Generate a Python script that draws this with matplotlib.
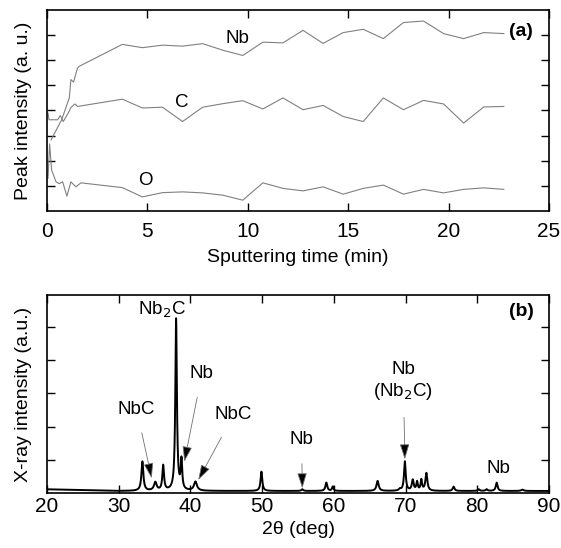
import numpy as np
import matplotlib
matplotlib.use("Agg")
import matplotlib.pyplot as plt

plt.rcParams['font.family'] = ['Liberation Sans', 'DejaVu Sans']

# ---- panel (a) data ----
nb_t = [0.2, 0.73, 1.11, 1.19, 1.32, 1.52, 1.61, 3.75, 4.75, 5.75, 6.75, 7.75, 8.75, 9.75,
        10.75, 11.75, 12.75, 13.75, 14.75, 15.75, 16.75, 17.75, 18.75, 19.75, 20.75, 21.75, 22.75]
nb_v = [2.83, 3.63, 4.5, 5.23, 5.13, 5.69, 5.76, 6.63, 6.5, 6.6, 6.56, 6.66, 6.4, 6.19,
        6.72, 6.69, 7.19, 6.67, 7.1, 7.23, 6.86, 7.5, 7.56, 7.06, 6.86, 7.1, 7.06]

c_t = [0.05, 0.1, 0.53, 0.66, 0.81, 1.06, 1.19, 1.39, 1.52, 3.75, 4.75, 5.75, 6.75, 7.75, 8.75,
       9.75, 10.75, 11.75, 12.75, 13.75, 14.75, 15.75, 16.75, 17.75, 18.75, 19.75, 20.75, 21.75, 22.75]
c_v = [3.9, 3.63, 3.63, 3.8, 3.56, 3.9, 4.12, 4.26, 4.16, 4.45, 4.1, 4.13, 3.56, 4.13, 4.27,
       4.39, 4.06, 4.5, 4.03, 4.2, 3.76, 3.56, 4.5, 4.03, 4.4, 4.26, 3.5, 4.14, 4.16]

o_t = [0.05, 0.13, 0.23, 0.45, 0.61, 0.78, 0.99, 1.19, 1.44, 1.69, 3.75, 4.75, 5.75, 6.75, 7.75,
       8.75, 9.75, 10.75, 11.75, 12.75, 13.75, 14.75, 15.75, 16.75, 17.75, 18.75, 19.75, 20.75, 21.75, 22.75]
o_v = [1.3, 2.67, 1.63, 1.16, 1.09, 1.16, 0.59, 1.16, 0.96, 1.12, 0.93, 0.56, 0.73, 0.76, 0.72,
       0.63, 0.43, 1.12, 0.9, 0.8, 0.96, 0.67, 0.9, 1.03, 0.67, 0.86, 0.72, 0.86, 0.92, 0.86]

# ---- panel (b) data: peak positions (deg), heights, widths ----
peak_pos = [33.3, 35.1, 36.2, 38.0, 38.75, 40.7, 49.9, 55.6, 58.95, 59.85, 66.1, 69.2,
            69.9, 71.0, 71.6, 72.2, 72.9, 76.7, 80.2, 81.3, 82.7, 86.3]
peak_h = [0.88, 0.25, 0.75, 5.15, 0.88, 0.27, 0.58, 0.05, 0.25, 0.13, 0.3, 0.05,
          0.88, 0.32, 0.26, 0.32, 0.53, 0.13, 0.05, 0.05, 0.25, 0.04]
peak_w = [0.16, 0.22, 0.14, 0.13, 0.12, 0.25, 0.14, 0.15, 0.15, 0.12, 0.18, 0.15,
          0.14, 0.15, 0.12, 0.12, 0.16, 0.15, 0.15, 0.15, 0.15, 0.2]

FS = 14
fig = plt.figure(figsize=(5.61, 5.48), dpi=100)
ax1 = fig.add_axes([0.0838, 0.615, 0.8948, 0.3668])
ax2 = fig.add_axes([0.0838, 0.0998, 0.8948, 0.3619])

gray = '#808080'
ax1.plot(nb_t, nb_v, color=gray, lw=0.8)
ax1.plot(c_t, c_v, color=gray, lw=0.8)
ax1.plot(o_t, o_v, color=gray, lw=0.8)
ax1.set_xlim(0, 25)
ax1.set_ylim(0, 8)
ax1.set_xticks([0, 5, 10, 15, 20, 25])
ax1.set_yticks([1, 2, 3, 4, 5, 6, 7])
ax1.set_yticklabels([])
ax1.set_xlabel('Sputtering time (min)', fontsize=FS, labelpad=6)
ax1.set_ylabel('Peak intensity (a. u.)', fontsize=FS)
ax1.text(9.5, 6.85, 'Nb', fontsize=13.5, ha='center', va='center')
ax1.text(6.7, 4.3, 'C', fontsize=13.5, ha='center', va='center')
ax1.text(4.9, 1.2, 'O', fontsize=13.5, ha='center', va='center')
ax1.text(23.6, 7.14, '(a)', fontsize=14, fontweight='bold', ha='center', va='center')

x = np.linspace(20, 90, 7001)
y = 0.12 - 0.05 * np.clip((x - 20) / 10, 0, 1)
for p, h, w in zip(peak_pos, peak_h, peak_w):
    y = y + h / (1 + ((x - p) / w) ** 2)
ax2.plot(x, y, color='black', lw=1.4)
ax2.set_xlim(20, 90)
ax2.set_ylim(0, 5.95)
ax2.set_xticks(range(20, 91, 10))
ax2.set_yticks([1, 2, 3, 4, 5])
ax2.set_yticklabels([])
ax2.set_xlabel('2θ (deg)', fontsize=FS, labelpad=3)
ax2.set_ylabel('X-ray intensity (a.u.)', fontsize=FS)


def ann(label, xy, xytext):
    ax2.annotate(label, xy=xy, xytext=xytext, fontsize=13.5, ha='center', va='center',
                 arrowprops=dict(arrowstyle='-|>,head_length=0.7,head_width=0.22',
                                 fc='black', ec='#707070', lw=0.6,
                                 shrinkA=9, shrinkB=0))

ax2.text(36.0, 5.5, 'Nb$_{2}$C', fontsize=13.5, ha='center', va='center')
ann('NbC', (34.6, 0.45), (32.5, 2.52))
ann('Nb', (39.15, 0.95), (41.6, 3.58))
ann('NbC', (41.1, 0.4), (46.0, 2.35))
ann('Nb', (55.6, 0.15), (55.5, 1.6))
ann('Nb\n(Nb$_{2}$C)', (69.9, 1.02), (69.7, 3.35))
ax2.text(83.0, 0.75, 'Nb', fontsize=13.5, ha='center', va='center')
ax2.text(86.2, 5.45, '(b)', fontsize=14, fontweight='bold', ha='center', va='center')

for ax, pad in ((ax1, 8), (ax2, 3)):
    ax.tick_params(direction='in', length=5.5, width=1.0, top=True, right=True,
                   labelsize=15, pad=pad)
    for s in ax.spines.values():
        s.set_linewidth(1.2)

for ax in (ax1, ax2):
    ax.yaxis.set_label_coords(-0.03, 0.5)

fig.savefig('out.png', dpi=100)
